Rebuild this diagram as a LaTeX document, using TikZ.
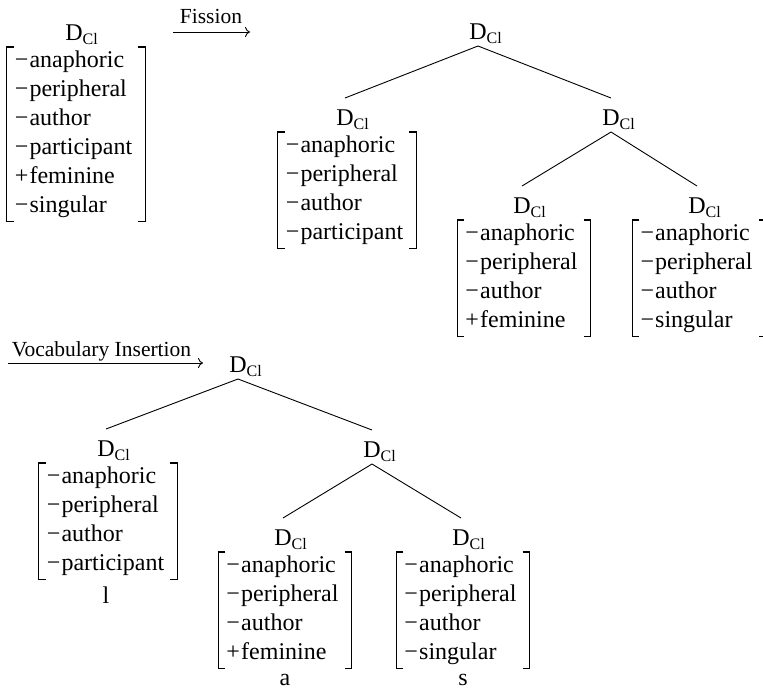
\documentclass[tikz,border=0pt]{standalone}
\usepackage{fontspec}
\setmainfont{Liberation Serif}
\usetikzlibrary{arrows.meta}

% category label D with its subscript hanging to the right
\newcommand\DCl{D\rlap{\raisebox{-4pt}{\fontsize{16}{16}\selectfont Cl}}}
\newcommand\fneg{−\kern1.2pt}
\newcommand\fpos{+\kern1.2pt}
\newcommand\featrows[1]{\begin{tabular}{@{\hspace{8pt}}l@{\hspace{13pt}}}#1\end{tabular}}

\tikzset{
  cat/.style={anchor=base, inner sep=0pt, font=\fontsize{24}{29}\selectfont},
  feats/.style={anchor=north, inner sep=0pt, font=\fontsize{24}{29}\selectfont},
  bracket/.style={line width=1.1pt},
  branch/.style={line width=0.9pt},
  rulelabel/.style={anchor=base, inner sep=0pt, font=\fontsize{21.5}{25}\selectfont},
  derive/.style={line width=0.9pt, -{To[length=5pt,width=10pt]}},
  exponent/.style={anchor=base, inner sep=0pt, font=\fontsize{24}{29}\selectfont},
}
% square brackets around a feature matrix node
\newcommand\brackets[1]{%
  \draw[bracket] ([xshift=7pt]#1.north west) -- (#1.north west) -- (#1.south west) -- ([xshift=7pt]#1.south west);
  \draw[bracket] ([xshift=-7pt]#1.north east) -- (#1.north east) -- (#1.south east) -- ([xshift=-7pt]#1.south east);}
% branch from a mother label to a daughter label
\newcommand\branch[2]{\draw[branch] ([yshift=-7pt]#1.base) -- ([yshift=27pt]#2.base);}

\begin{document}
\begin{tikzpicture}[x=1pt,y=-1pt]
\useasboundingbox (0,0) rectangle (763,691);
\clip (0,0) rectangle (763,691);

% ---------- input: the single clitic head ----------
\node[cat] (s0) at (74,40) {\DCl};
\node[feats] (ms0) at (76,47) {\featrows{\fneg anaphoric\\ \fneg peripheral\\ \fneg author\\ \fneg participant\\ \fpos feminine\\ \fneg singular}};
\brackets{ms0}

% ---------- Fission ----------
\coordinate (fisA) at (173,32);
\coordinate (fisB) at (250,32);
\draw[derive] (fisA) -- (fisB);
\node[rulelabel] (fislab) at (211,23) {Fission};

\node[cat] (t0) at (478,39) {\DCl};
\node[cat] (t1) at (345,125) {\DCl};
\node[cat] (t2) at (611,125) {\DCl};
\node[cat] (t3) at (522,213) {\DCl};
\node[cat] (t4) at (697,213) {\DCl};
\branch{t0}{t1}
\branch{t0}{t2}
\branch{t2}{t3}
\branch{t2}{t4}

\node[feats] (mt1) at (347,132) {\featrows{\fneg anaphoric\\ \fneg peripheral\\ \fneg author\\ \fneg participant}};
\brackets{mt1}
\node[feats] (mt3) at (524,220) {\featrows{\fneg anaphoric\\ \fneg peripheral\\ \fneg author\\ \fpos feminine}};
\brackets{mt3}
\node[feats] (mt4) at (699,220) {\featrows{\fneg anaphoric\\ \fneg peripheral\\ \fneg author\\ \fneg singular}};
\brackets{mt4}

% ---------- Vocabulary Insertion ----------
\coordinate (viA) at (8,363);
\coordinate (viB) at (203,363);
\draw[derive] (viA) -- (viB);
\node[rulelabel] (vilab) at (101.5,356) {Vocabulary Insertion};

\node[cat] (b0) at (238,372) {\DCl};
\node[cat] (b1) at (106,456) {\DCl};
\node[cat] (b2) at (372,457) {\DCl};
\node[cat] (b3) at (283,545) {\DCl};
\node[cat] (b4) at (461,545) {\DCl};
\branch{b0}{b1}
\branch{b0}{b2}
\branch{b2}{b3}
\branch{b2}{b4}

\node[feats] (mb1) at (108,463) {\featrows{\fneg anaphoric\\ \fneg peripheral\\ \fneg author\\ \fneg participant}};
\brackets{mb1}
\node[feats] (mb3) at (285,552) {\featrows{\fneg anaphoric\\ \fneg peripheral\\ \fneg author\\ \fpos feminine}};
\brackets{mb3}
\node[feats] (mb4) at (463,552) {\featrows{\fneg anaphoric\\ \fneg peripheral\\ \fneg author\\ \fneg singular}};
\brackets{mb4}

\node[exponent] (e1) at (106,603) {l};
\node[exponent] (e3) at (285,685) {a};
\node[exponent] (e4) at (463,685) {s};
\end{tikzpicture}
\end{document}
